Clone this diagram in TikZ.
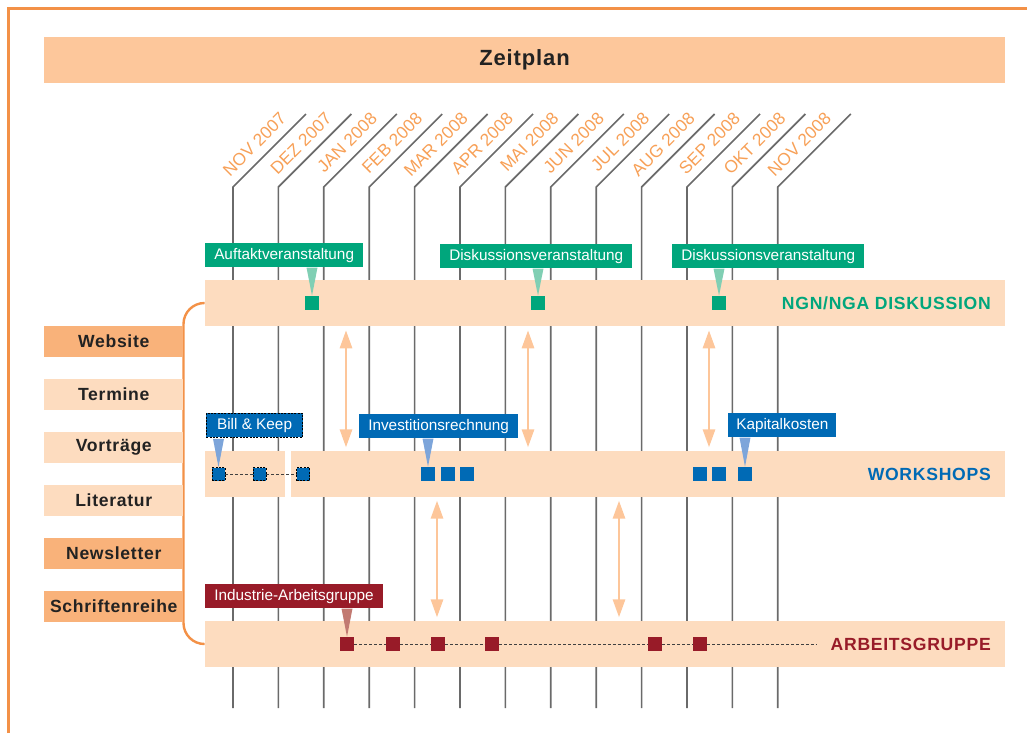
\documentclass[tikz,border=0pt]{standalone}
\usepackage{fontspec}
\setmainfont{Liberation Sans}
\newfontfamily\lsfont[LetterSpace=4]{Liberation Sans}
\usetikzlibrary{arrows.meta,calc}
\definecolor{frameor}{HTML}{F39147}
\definecolor{titlec}{HTML}{FDC79B}
\definecolor{bandc}{HTML}{FDDCBF}
\definecolor{lstdark}{HTML}{F9B27A}
\definecolor{grn}{HTML}{00A67C}
\definecolor{grnptr}{HTML}{80CFB4}
\definecolor{blu}{HTML}{006AB5}
\definecolor{bluptr}{HTML}{7DA5DA}
\definecolor{red}{HTML}{981B28}
\definecolor{redptr}{HTML}{C27A72}
\definecolor{arrc}{HTML}{FDC69A}
\definecolor{monthc}{HTML}{F7A057}
\definecolor{linec}{HTML}{6A6A6A}
\definecolor{darktext}{HTML}{222222}
\begin{document}
\begin{tikzpicture}[x=0.75pt,y=-0.75pt,
  band/.style={fill=bandc, minimum height=34.5pt, inner sep=0pt},
  lst/.style={minimum width=104.25pt, minimum height=23.25pt, inner sep=0pt, anchor=west,
    font=\lsfont\bfseries\fontsize{13.2}{14}\selectfont, text=darktext},
  callout/.style={text=white, font=\fontsize{11.5}{13}\selectfont, inner xsep=6.75pt,
    minimum height=18pt, inner ysep=0pt, anchor=north west},
  mk/.style={minimum size=10.5pt, inner sep=0pt},
  bmk/.style={mk, fill=blu},
  bdmk/.style={minimum size=9.75pt, inner sep=0pt, fill=blu, draw=black, line width=0.6pt, dash pattern=on 1.5pt off 1pt},
  gmk/.style={mk, fill=grn},
  rmk/.style={mk, fill=red},
  bandlbl/.style={anchor=east, font=\lsfont\bfseries\fontsize{13.2}{14}\selectfont, inner sep=0pt},
  monthlbl/.style={rotate=45, anchor=base east, inner sep=0pt, text=monthc, font=\fontsize{13}{14}\selectfont},
  arr/.style={{Triangle[length=13.5pt,width=9pt]}-{Triangle[length=13.5pt,width=9pt]}, line width=2.1pt, draw=arrc},
  mline/.style={draw=linec, line width=1.25pt},
  dashln/.style={draw=black!75, line width=0.65pt, dash pattern=on 2.2pt off 1.5pt}
]
\useasboundingbox (0,0) rectangle (1027,733);
% frame
\draw[frameor, line width=2pt] (8.5,733) -- (8.5,8.5) -- (1027,8.5);
% title
\node[fill=titlec, minimum width=720.75pt, minimum height=34.5pt, inner sep=0pt,
  font=\lsfont\bfseries\fontsize{16.5}{18}\selectfont, text=darktext] (title) at (524.5,60) {Zeitplan};
% month lines and labels
\foreach \lbl [count=\i from 0] in {NOV 2007,DEZ 2007,JAN 2008,FEB 2008,MAR 2008,APR 2008,MAI 2008,JUN 2008,JUL 2008,AUG 2008,SEP 2008,OKT 2008,NOV 2008}{
  \pgfmathsetmacro{\xx}{233+45.4*\i}
  \draw[mline] (\xx,708) -- (\xx,187) -- (\xx+73,114);
  \node[monthlbl] (m\i) at (\xx+54.5,119.8) {\lbl};
}
% bands
\node[band, minimum width=600pt] (ngn) at (605,303) {};
\node[band, minimum width=60pt] (ws1) at (245,474) {};
\node[band, minimum width=535.5pt] (ws2) at (648,474) {};
\node[band, minimum width=600pt] (arb) at (605,644) {};
% bracket
\draw[frameor, line width=1.8pt, rounded corners=15.75pt] (ngn.west) -| (183.5,644) -- (arb.west);
% double arrows
\coordinate (a1) at (346,0);
\coordinate (a2) at (528,0);
\coordinate (a3) at (709,0);
\coordinate (a4) at (437,0);
\coordinate (a5) at (619,0);
\draw[arr, shorten <=3pt, shorten >=2.5pt] (ngn.south -| a1) -- (ws2.north -| a1);
\draw[arr, shorten <=3pt, shorten >=2.5pt] (ngn.south -| a2) -- (ws2.north -| a2);
\draw[arr, shorten <=3pt, shorten >=2.5pt] (ngn.south -| a3) -- (ws2.north -| a3);
\draw[arr, shorten <=2.5pt, shorten >=2.5pt] (ws2.south -| a4) -- (arb.north -| a4);
\draw[arr, shorten <=2.5pt, shorten >=2.5pt] (ws2.south -| a5) -- (arb.north -| a5);
% green markers
\node[gmk] (g1) at (312,303) {};
\node[gmk] (g2) at (538,303) {};
\node[gmk] (g3) at (719,303) {};
% blue markers
\node[bdmk] (b1) at (218.5,474) {};
\node[bdmk] (b2) at (259.5,474) {};
\node[bdmk] (b3) at (303,474) {};
\draw[dashln] (b1) -- (b2) -- (b3);
\node[bmk] (i1) at (428,474) {};
\node[bmk] (i2) at (448,474) {};
\node[bmk] (i3) at (467,474) {};
\node[bmk] (k1) at (700,474) {};
\node[bmk] (k2) at (719,474) {};
\node[bmk] (k3) at (745,474) {};
% red markers
\coordinate (rend) at (817,644);
\node[rmk] (r1) at (347,644) {};
\node[rmk] (r2) at (393,644) {};
\node[rmk] (r3) at (438,644) {};
\node[rmk] (r4) at (492,644) {};
\node[rmk] (r5) at (655,644) {};
\node[rmk] (r6) at (700,644) {};
\draw[dashln] (r1) -- (r2) -- (r3) -- (r4) -- (r5) -- (r6) -- (rend);
% callouts
\node[callout, fill=grn] (c1) at (205,243) {Auftaktveranstaltung};
\node[callout, fill=grn] (c2) at (440,244) {Diskussionsveranstaltung};
\node[callout, fill=grn] (c3) at (672,244) {Diskussionsveranstaltung};
\node[callout, fill=blu, draw=black, line width=0.6pt, dash pattern=on 1.5pt off 1pt, inner xsep=8pt] (c4) at (206,413) {Bill \& Keep};
\node[callout, fill=blu] (c5) at (359,414) {Investitionsrechnung};
\node[callout, fill=blu, inner xsep=6pt] (c6) at (728,413) {Kapitalkosten};
\node[callout, fill=red] (c7) at (205,584) {Industrie-Arbeitsgruppe};
% pointers
\fill[grnptr] ($(c1.south -| g1.north)+(-5.5,0)$) -- ($(c1.south -| g1.north)+(5.5,0)$) -- (g1.north) -- cycle;
\fill[grnptr] ($(c2.south -| g2.north)+(-5.5,0)$) -- ($(c2.south -| g2.north)+(5.5,0)$) -- (g2.north) -- cycle;
\fill[grnptr] ($(c3.south -| g3.north)+(-5.5,0)$) -- ($(c3.south -| g3.north)+(5.5,0)$) -- (g3.north) -- cycle;
\fill[bluptr] ($(c4.south -| b1.north)+(-5.5,1)$) -- ($(c4.south -| b1.north)+(5.5,1)$) -- (b1.north) -- cycle;
\fill[bluptr] ($(c5.south -| i1.north)+(-5.5,0)$) -- ($(c5.south -| i1.north)+(5.5,0)$) -- (i1.north) -- cycle;
\fill[bluptr] ($(c6.south -| k3.north)+(-5.5,0)$) -- ($(c6.south -| k3.north)+(5.5,0)$) -- (k3.north) -- cycle;
\fill[redptr] ($(c7.south -| r1.north)+(-5.5,0)$) -- ($(c7.south -| r1.north)+(5.5,0)$) -- (r1.north) -- cycle;
% band labels
\node[bandlbl, text=grn] (lngn) at (991,303) {NGN/NGA DISKUSSION};
\node[bandlbl, text=blu] (lws) at (991,474) {WORKSHOPS};
\node[bandlbl, text=red] (larb) at (991,644) {ARBEITSGRUPPE};
% left list
\node[lst, fill=lstdark] (l1) at (44,341.5) {Website};
\node[lst, fill=bandc] (l2) at (44,394.5) {Termine};
\node[lst, fill=bandc] (l3) at (44,447.5) {Vorträge};
\node[lst, fill=bandc] (l4) at (44,500.5) {Literatur};
\node[lst, fill=lstdark] (l5) at (44,553.5) {Newsletter};
\node[lst, fill=lstdark] (l6) at (44,606.5) {Schriftenreihe};
\end{tikzpicture}
\end{document}
